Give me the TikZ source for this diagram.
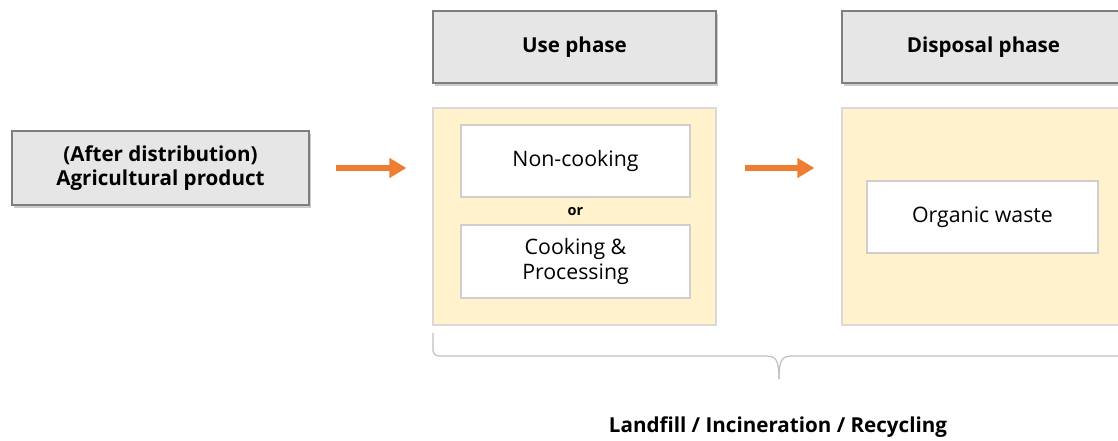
\documentclass[tikz,border=0pt]{standalone}
\usepackage{xcolor}
\usepackage{fontspec}
\setmainfont{Open Sans}
\usepackage{tikz}
\usetikzlibrary{arrows.meta}
\usetikzlibrary{shadows}
\definecolor{hdgray}{HTML}{E7E6E6}
\definecolor{hdline}{HTML}{7F7F7F}
\definecolor{phasebg}{HTML}{FFF2CC}
\definecolor{phaseline}{HTML}{D9D9D9}
\definecolor{itemline}{HTML}{D0CECE}
\definecolor{flowor}{HTML}{ED7D31}
\definecolor{bracegray}{HTML}{BFBFBF}

\begin{document}
\begin{tikzpicture}[x=1pt,y=-1pt,
    header/.style={draw=hdline,line width=1.3pt,fill=hdgray,minimum width=283pt,minimum height=72pt,inner sep=0pt,
        font=\fontsize{20.6}{24}\selectfont\bfseries,drop shadow={shadow xshift=2pt,shadow yshift=-3pt,opacity=0.4}},
    phasebox/.style={draw=phaseline,line width=1.2pt,fill=phasebg,minimum width=283pt,minimum height=217pt,inner sep=0pt},
    itembox/.style={draw=itemline,line width=1.2pt,fill=white,minimum width=229pt,minimum height=72pt,inner sep=0pt,
        align=center,font=\fontsize{21.3}{25}\selectfont},
    flow/.style={draw=flowor,line width=6pt,-{Triangle[length=17pt,width=19pt]}}]
                    \useasboundingbox (0,0) rectangle (1118,441);
                    \node[header,minimum width=297pt,minimum height=74pt,align=center,font=\fontsize{20.6}{24.5}\selectfont\bfseries] (prod) at (160.5,168) {(After distribution)\\Agricultural product};
                    \node[header] (usehd) at (574.5,47) {Use phase};
                    \node[header] (disphd) at (983.5,47) {Disposal phase};
                    \node[phasebox] (usebg) at (574.5,216.5) {};
                    \node[phasebox] (dispbg) at (983.5,216.5) {};
                    \node[itembox] (noncook) at (575.5,161) {Non-cooking};
                    \node[itembox,minimum height=73pt] (cook) at (575.5,261.5) {Cooking \&\\Processing};
                    \node[font=\fontsize{14.5}{17}\selectfont\bfseries] (or) at (575.5,212) {or};
                    \node[itembox,minimum width=231pt] (organic) at (982.5,217) {Organic waste};
                    \draw[flow,shorten <=26pt,shorten >=26pt] (prod.east) -- (prod.east -| usebg.west);
                    \draw[flow,shorten <=28pt,shorten >=27pt] (usebg.east |- prod.east) -- (dispbg.west |- prod.east);
                    \coordinate (bl) at (433,333);
                    \coordinate (tip) at (779,379);
                    \coordinate (br) at (1125,333);
                    \draw[bracegray,line width=1.2pt,rounded corners=6pt] (bl) -- (433,356) -- (766,356);
                    \draw[bracegray,line width=1.2pt] (766,356) .. controls (776,356) and (779,360) .. (tip);
                    \draw[bracegray,line width=1.2pt] (792,356) .. controls (782,356) and (779,360) .. (tip);
                    \draw[bracegray,line width=1.2pt,rounded corners=6pt] (792,356) -- (1125,356) -- (br);
                    \node[font=\fontsize{20.6}{24}\selectfont\bfseries] (fate) at (778,427) {Landfill / Incineration / Recycling};
                \end{tikzpicture}
\end{document}
